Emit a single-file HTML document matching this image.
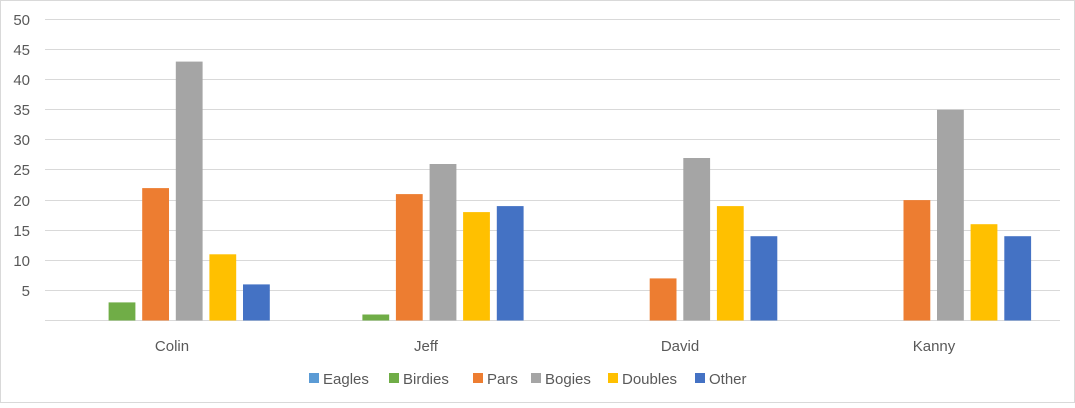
<!DOCTYPE html><html><head><style>body{margin:0;background:#fff}</style></head><body>
<svg width="1075" height="403" xmlns="http://www.w3.org/2000/svg" font-family="Liberation Sans, sans-serif" fill="#595959">
<rect x="0.5" y="0.5" width="1074" height="402" fill="#fff" stroke="#d9d9d9"/>
<g stroke="#d9d9d9" stroke-width="1">
<line x1="45" x2="1060" y1="19.5" y2="19.5"/><line x1="45" x2="1060" y1="49.5" y2="49.5"/><line x1="45" x2="1060" y1="79.5" y2="79.5"/><line x1="45" x2="1060" y1="109.5" y2="109.5"/><line x1="45" x2="1060" y1="139.5" y2="139.5"/><line x1="45" x2="1060" y1="169.5" y2="169.5"/><line x1="45" x2="1060" y1="200.5" y2="200.5"/><line x1="45" x2="1060" y1="230.5" y2="230.5"/><line x1="45" x2="1060" y1="260.5" y2="260.5"/><line x1="45" x2="1060" y1="290.5" y2="290.5"/><line x1="45" x2="1060" y1="320.5" y2="320.5"/>
</g>
<g font-size="15" text-anchor="end">
<text x="30" y="25">50</text><text x="30" y="55">45</text><text x="30" y="85">40</text><text x="30" y="115">35</text><text x="30" y="145">30</text><text x="30" y="175">25</text><text x="30" y="206">20</text><text x="30" y="236">15</text><text x="30" y="266">10</text><text x="30" y="296">5</text>
</g>
<g id="bars"></g>
<g font-size="15" text-anchor="middle">
<text x="172" y="351">Colin</text><text x="426" y="351">Jeff</text><text x="680" y="351">David</text><text x="934" y="351">Kanny</text>
</g>
<g font-size="15">
<rect x="309" y="373" width="10" height="10" fill="#5b9bd5"/><text x="323" y="384">Eagles</text>
<rect x="389" y="373" width="10" height="10" fill="#70ad47"/><text x="403" y="384">Birdies</text>
<rect x="473" y="373" width="10" height="10" fill="#ed7d31"/><text x="487" y="384">Pars</text>
<rect x="531" y="373" width="10" height="10" fill="#a5a5a5"/><text x="545" y="384">Bogies</text>
<rect x="608" y="373" width="10" height="10" fill="#ffc000"/><text x="622" y="384">Doubles</text>
<rect x="695" y="373" width="10" height="10" fill="#4472c4"/><text x="709" y="384">Other</text>
</g>
</svg>
<script>
var d=[[0,3,22,43,11,6],[0,1,21,26,18,19],[0,0,7,27,19,14],[0,0,20,35,16,14]];
var c=["#5b9bd5","#70ad47","#ed7d31","#a5a5a5","#ffc000","#4472c4"];
var g=document.getElementById("bars"),s="";
for(var i=0;i<4;i++)for(var j=0;j<6;j++){var v=d[i][j];if(!v)continue;var x=75+i*253.75+j*33.6,h=v*6.02;
s+='<rect x="'+x.toFixed(1)+'" y="'+(320.5-h).toFixed(1)+'" width="26.8" height="'+h.toFixed(1)+'" fill="'+c[j]+'"/>';}
g.innerHTML=s;
</script>
</body></html>
